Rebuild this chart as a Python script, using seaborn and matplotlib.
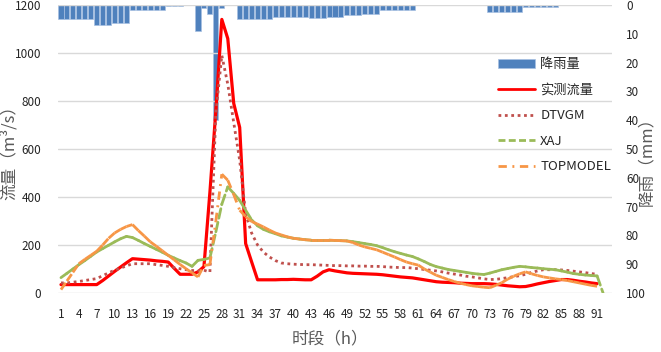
import numpy as np
import pandas as pd
import matplotlib
matplotlib.use("Agg")
import matplotlib.pyplot as plt
import seaborn as sns
from matplotlib.lines import Line2D
from matplotlib.patches import Patch

# --- data ---
period = list(range(1, 94))

rain = ([5] * 6 + [7] * 3 + [6.4] * 3 + [1.6] * 6 + [0.5] * 3 + [0] * 2
        + [9, 1, 3, 40, 1] + [0] * 2 + [5] * 6 + [4] * 6 + [4.6] * 3
        + [4.3] * 3 + [3.6] * 3 + [3.1] * 3 + [1.6] * 6 + [0] * 12
        + [2.5] * 6 + [0.6] * 6 + [0] * 9)

observed = [35, 35, 35, 35, 35, 35, 35,
            52, 71, 90, 108, 126, 143,
            141, 139, 137, 134, 132, 129,
            103, 78, 78, 78, 88, 110,
            420, 760, 1140, 1060, 790, 690,
            206, 130, 55, 55, 55, 55,
            56, 56, 57, 56, 55, 55,
            70, 88, 97, 92, 88, 84,
            82, 81, 80, 79, 78, 76,
            73, 70, 67, 65, 63, 59,
            55, 51, 47, 45, 44, 43,
            41, 40, 39, 39, 39, 38,
            36, 33, 30, 28, 26, 27,
            32, 38, 43, 48, 52, 56,
            56, 53, 49, 46, 42, 39]

dtvgm = [42, 42, 45, 48, 52, 56, 60,
         72, 84, 95, 104, 113, 122,
         122, 122, 122, 118, 115, 111,
         106, 101, 97, 94, 92, 95,
         87, 750, 990, 870, 710, 553,
         330, 250, 200, 170, 150, 135,
         125, 122, 120, 119, 118, 118,
         117, 116, 115, 114, 114, 113,
         113, 112, 112, 111, 111, 110,
         108, 107, 106, 106, 104, 101,
         98, 95, 92, 88, 83, 79,
         75, 70, 67, 63, 59, 56,
         57, 60, 64, 68, 72, 78,
         86, 92, 97, 97, 97, 96,
         94, 91, 88, 85, 81, 78]

xaj = [64, 82, 100, 118, 135, 153, 171,
       185, 199, 213, 226, 236, 231,
       219, 206, 194, 182, 170, 157,
       146, 135, 125, 111, 136, 140,
       146, 255, 370, 442, 415, 386,
       345, 305, 280, 265, 255, 247,
       238, 233, 228, 225, 222, 220,
       220, 220, 220, 219, 218, 217,
       214, 210, 206, 202, 197, 189,
       180, 172, 165, 158, 152, 142,
       131, 119, 110, 104, 98, 94,
       90, 86, 82, 79, 77, 83,
       90, 97, 102, 107, 111, 109,
       106, 104, 101, 99, 97, 92,
       87, 81, 78, 75, 73, 71,
       0]

topmodel = [14, 50, 86, 122, 140, 157, 174,
            200, 228, 250, 265, 277, 285,
            260, 237, 213, 195, 176, 157,
            138, 119, 101, 84, 67, 115,
            118, 300, 495, 470, 410, 345,
            318, 298, 287, 275, 262, 250,
            242, 234, 228, 225, 222, 220,
            220, 220, 220, 219, 218, 217,
            210, 200, 192, 186, 180, 170,
            160, 150, 139, 129, 122, 116,
            100, 87, 74, 65, 56, 48,
            41, 35, 30, 27, 24, 22,
            32, 43, 58, 70, 80, 88,
            80, 73, 67, 63, 59, 56,
            52, 47, 42, 37, 32, 28]

labels = ["降雨量", "实测流量", "DTVGM", "XAJ", "TOPMODEL"]
colors = ["#4F81BD", "#FF0000", "#C0504D", "#9BBB59", "#F79646"]


def segments(values):
    # one unit per segment, so the dash pattern restarts at each point (as Excel does)
    rows = []
    for k in range(len(values) - 1):
        for j in (k, k + 1):
            rows.append({"seg": k, "x": period[j], "y": values[j]})
    return pd.DataFrame(rows)


sns.set_theme(style="white")
plt.rcParams["font.family"] = ["Noto Sans CJK SC", "DejaVu Sans"]

fig = plt.figure(figsize=(6.61, 3.52), dpi=100)
ax = fig.add_axes([58 / 661, 1 - 293 / 352, 554 / 661, 288 / 352])
ax2 = ax.twinx()

# rainfall bars hanging from the top (right axis, inverted)
sns.barplot(x=period, y=rain, native_scale=True, ax=ax2, color=colors[0],
            saturation=1, width=0.85, edgecolor="#A7C0E2", linewidth=0.5)
ax2.set_ylim(100, 0)

# flow lines
lw = 2.0
sns.lineplot(x=period[:len(observed)], y=observed, ax=ax, color=colors[1], lw=2.3)
sns.lineplot(x=period[:len(dtvgm)], y=dtvgm, ax=ax, color=colors[2], lw=lw,
             linestyle=(0, (1, 1.3)))
sns.lineplot(data=segments(xaj), x="x", y="y", units="seg", estimator=None,
             ax=ax, color=colors[3], lw=lw, linestyle=(0, (3.5, 1.5)),
             dash_capstyle="round")
sns.lineplot(data=segments(topmodel), x="x", y="y", units="seg", estimator=None,
             ax=ax, color=colors[4], lw=lw, linestyle=(0, (3, 2, 0.7, 2)),
             dash_capstyle="butt")

ax.set_zorder(ax2.get_zorder() + 1)
ax.patch.set_visible(False)

ax.set_xlim(0.5, 93.5)
ax.set_ylim(0, 1200)
ax.set_yticks(range(0, 1201, 200))
ax.set_xticks(range(1, 92, 3))
ax2.set_yticks(range(0, 101, 10))
ax.grid(axis="y", color="#D9D9D9", lw=1)
ax.grid(axis="x", visible=False)
ax2.grid(False)
for a in (ax, ax2):
    for s in a.spines.values():
        s.set_visible(False)
ax.tick_params(axis="both", length=0, labelsize=8.5, labelcolor="#262626")
ax.tick_params(axis="y", pad=12)
ax.tick_params(axis="x", pad=11)
ax2.tick_params(axis="y", length=0, labelsize=8.5, labelcolor="#262626", pad=10)

ax.set_xlabel("时段（h）", fontsize=12, color="#595959")
ax.set_ylabel("流量（m³/s）", fontsize=12, color="#595959")
ax2.set_ylabel("降雨（mm）", fontsize=12, color="#595959", rotation=90)
ax.xaxis.set_label_coords(0.49, -0.13)
ax.yaxis.set_label_coords(-0.072, 0.5)
ax2.yaxis.set_label_coords(1.048, 0.47)
ax2.set_xlabel("")

handles = [Patch(facecolor=colors[0], edgecolor="#A7C0E2", lw=0.5),
           Line2D([], [], color=colors[1], lw=2),
           Line2D([], [], color=colors[2], lw=2, linestyle=(0, (1, 1.3))),
           Line2D([], [], color=colors[3], lw=2, linestyle=(0, (2.5, 1.2))),
           Line2D([], [], color=colors[4], lw=2, linestyle=(0, (3, 2, 0.7, 2)))]
ax.legend(handles, labels, loc="upper left", bbox_to_anchor=(498 / 661, 1 - 58 / 352),
          bbox_transform=fig.transFigure, frameon=False, fontsize=9.5,
          handlelength=2.8, handleheight=0.6, handletextpad=0.4,
          labelspacing=0.95, borderpad=0, borderaxespad=0)

fig.savefig("out.png", dpi=100)
